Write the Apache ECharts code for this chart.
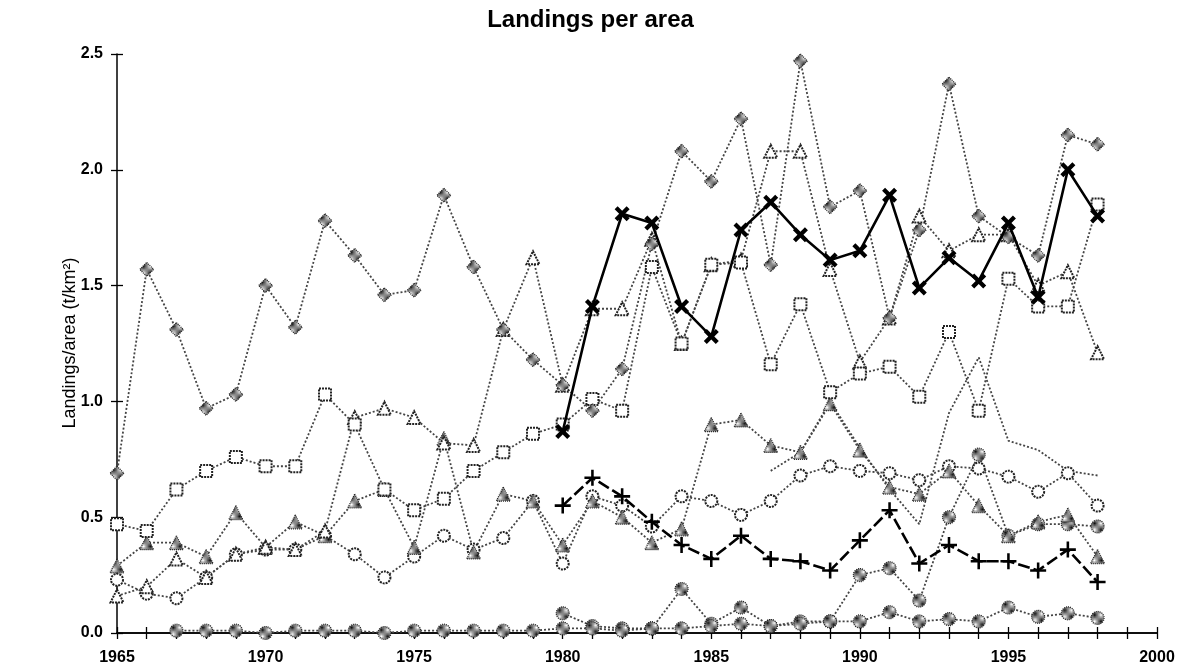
<!DOCTYPE html>
<html>
<head>
<meta charset="utf-8">
<script src="https://cdn.jsdelivr.net/npm/echarts@6/dist/echarts.min.js"></script>
<style>
html,body{margin:0;padding:0;background:#fff;}
#chart{width:1181px;height:669px;}
</style>
</head>
<body>
<div id="chart"></div>
<script>
// ---- data (years 1965..1998) ----
const years = [1965,1966,1967,1968,1969,1970,1971,1972,1973,1974,1975,1976,1977,1978,1979,1980,1981,1982,1983,1984,1985,1986,1987,1988,1989,1990,1991,1992,1993,1994,1995,1996,1997,1998];
const xTickLabels = ['1965','1970','1975','1980','1985','1990','1995','2000'];
const yAxisTitle = 'Landings/area (t/km²)';
const diamondSeries = [0.69,1.57,1.31,0.97,1.03,1.50,1.32,1.78,1.63,1.46,1.48,1.89,1.58,1.31,1.18,1.07,0.96,1.14,1.68,2.08,1.95,2.22,1.59,2.47,1.84,1.91,1.36,1.74,2.37,1.80,1.71,1.63,2.15,2.11];
const squareSeries = [0.47,0.44,0.62,0.70,0.76,0.72,0.72,1.03,0.90,0.62,0.53,0.58,0.70,0.78,0.86,0.90,1.01,0.96,1.58,1.25,1.59,1.60,1.16,1.42,1.04,1.12,1.15,1.02,1.30,0.96,1.53,1.41,1.41,1.85];
const openTriangleSeries = [0.16,0.20,0.32,0.24,0.34,0.37,0.36,0.44,0.93,0.97,0.93,0.82,0.81,1.31,1.62,1.07,1.40,1.40,1.70,1.25,1.59,1.61,2.08,2.08,1.57,1.17,1.36,1.80,1.65,1.72,1.72,1.50,1.56,1.21];
const filledTriangleSeries = [0.29,0.39,0.39,0.33,0.52,0.37,0.48,0.42,0.57,0.62,0.37,0.84,0.35,0.60,0.57,0.38,0.57,0.50,0.39,0.45,0.90,0.92,0.81,0.78,0.99,0.79,0.63,0.60,0.70,0.55,0.42,0.48,0.51,0.33];
const openCircleSeries = [0.23,0.17,0.15,0.24,0.34,0.36,0.36,0.42,0.34,0.24,0.33,0.42,0.36,0.41,0.57,0.30,0.59,0.55,0.46,0.59,0.57,0.51,0.57,0.68,0.72,0.70,0.69,0.66,0.72,0.71,0.675,0.61,0.69,0.55];
const lowCircleSeries = [null,null,0.01,0.01,0.01,0.00,0.01,0.01,0.01,0.00,0.01,0.01,0.01,0.01,0.01,0.02,0.02,0.01,0.02,0.02,0.03,0.04,0.03,0.04,0.05,0.25,0.28,0.14,0.50,0.77,0.42,0.47,0.47,0.46];
const lowHatchSeries = [null,null,null,null,null,null,null,null,null,null,null,null,null,null,null,0.085,0.03,0.02,0.02,0.19,0.04,0.11,0.03,0.05,0.05,0.05,0.09,0.05,0.06,0.05,0.11,0.07,0.085,0.065];
const crossSeries = [null,null,null,null,null,null,null,null,null,null,null,null,null,null,null,0.87,1.41,1.81,1.77,1.41,1.28,1.74,1.86,1.72,1.61,1.65,1.89,1.49,1.62,1.52,1.77,1.45,2.00,1.80];
const plusSeries = [null,null,null,null,null,null,null,null,null,null,null,null,null,null,null,0.55,0.67,0.59,0.48,0.38,0.32,0.42,0.32,0.31,0.27,0.40,0.53,0.30,0.38,0.31,0.31,0.27,0.36,0.22];
const plainSeries = [null,null,null,null,null,null,null,null,null,null,null,null,null,null,null,null,null,null,null,null,null,null,0.70,0.78,1.00,0.80,0.62,0.47,0.95,1.19,0.83,0.79,0.70,0.68];

// ---- hatch pattern ----
function makeHatch(){
  const c = document.createElement('canvas');
  c.width = 2; c.height = 2;
  const g = c.getContext('2d');
  g.fillStyle = '#fff'; g.fillRect(0,0,2,2);
  g.fillStyle = '#111'; g.fillRect(0,0,1,1); g.fillRect(1,1,1,1);
  return c;
}
const hatch = {image: makeHatch(), repeat: 'repeat'};

function pairs(arr){ return years.map((y,i)=>[y, arr[i]]); }

const grayLine = {color:'#444', width:1.8, type:[2,2]};
function graySeries(name, arr, symbol, size, filled){
  return {
    name, type:'line', data: pairs(arr), symbol, symbolSize:size, connectNulls:false,
    lineStyle: grayLine,
    itemStyle: filled ? {color: hatch, borderColor:'#222', borderWidth:1.2, borderType:[1,1]}
                      : {color:'#fff', borderColor:'#222', borderWidth:2, borderType:[2,1]},
    z: 2, animation:false
  };
}

const X_PATH = 'path://M0,2 L2,0 L5,3 L8,0 L10,2 L7,5 L10,8 L8,10 L5,7 L2,10 L0,8 L3,5 Z';
const PLUS_PATH = 'path://M4.2,0 H5.8 V4.2 H10 V5.8 H5.8 V10 H4.2 V5.8 H0 V4.2 H4.2 Z';
const FONT = 'Liberation Sans, Arial, sans-serif';

const chart = echarts.init(document.getElementById('chart'), null, {renderer:'canvas'});
const axisBase = {
  type:'value', min:1965, max:2000, interval:1,
  axisLine:{show:true, lineStyle:{color:'#000', width:1.5}},
  splitLine:{show:false}
};
chart.setOption({
  animation:false,
  title:{text:'Landings per area', left:'center', top:3,
    textStyle:{fontFamily:FONT, fontSize:24, fontWeight:'bold', color:'#000'}},
  grid:{left:117, right:24, top:54, bottom:36},
  graphic:[{
    type:'text', x:70, y:343, rotation:Math.PI/2, silent:true,
    style:{text:yAxisTitle, fontFamily:FONT, fontSize:18, fill:'#000', align:'center', verticalAlign:'middle'}
  }],
  xAxis:[
    Object.assign({}, axisBase, {
      axisTick:{show:true, inside:false, length:6, lineStyle:{color:'#000', width:1.3}},
      axisLabel:{show:true, margin:17, color:'#000', fontSize:16, fontWeight:'bold', fontFamily:FONT,
        formatter:function(v){ const s=String(v); return xTickLabels.indexOf(s)>=0 ? s : ''; }}
    }),
    Object.assign({}, axisBase, {
      axisTick:{show:true, inside:true, length:6, lineStyle:{color:'#000', width:1.3}},
      axisLabel:{show:false}, position:'bottom'
    })
  ],
  yAxis:[
    {type:'value', min:0, max:2.5, interval:0.5,
      axisLine:{show:true, lineStyle:{color:'#000', width:1.5}},
      axisTick:{show:true, inside:false, length:6, lineStyle:{color:'#000', width:1.3}},
      axisLabel:{margin:14, color:'#000', fontSize:16, fontWeight:'bold', fontFamily:FONT,
        formatter:function(v){ return v.toFixed(1); }},
      splitLine:{show:false}},
    {type:'value', min:0, max:2.5, interval:0.5, position:'left',
      axisLine:{show:false}, axisTick:{show:true, inside:true, length:6, lineStyle:{color:'#000', width:1.3}},
      axisLabel:{show:false}, splitLine:{show:false}}
  ],
  series:[
    graySeries('plain', plainSeries, 'none', 0, false),
    graySeries('lowHatch', lowHatchSeries, 'circle', 13, true),
    graySeries('lowCircle', lowCircleSeries, 'circle', 13, true),
    graySeries('openCircle', openCircleSeries, 'circle', 12, false),
    graySeries('filledTriangle', filledTriangleSeries, 'triangle', 14, true),
    graySeries('openTriangle', openTriangleSeries, 'triangle', 13, false),
    graySeries('square', squareSeries, 'rect', 12, false),
    graySeries('diamond', diamondSeries, 'diamond', 14, true),
    {name:'plus', type:'line', data:pairs(plusSeries), symbol:PLUS_PATH, symbolSize:16,
      lineStyle:{color:'#000', width:2.6, type:[12,4]}, itemStyle:{color:'#000'}, z:5, animation:false},
    {name:'cross', type:'line', data:pairs(crossSeries), symbol:X_PATH, symbolSize:15,
      lineStyle:{color:'#000', width:2.6}, itemStyle:{color:'#000'}, z:6, animation:false}
  ]
});
</script>
</body>
</html>
